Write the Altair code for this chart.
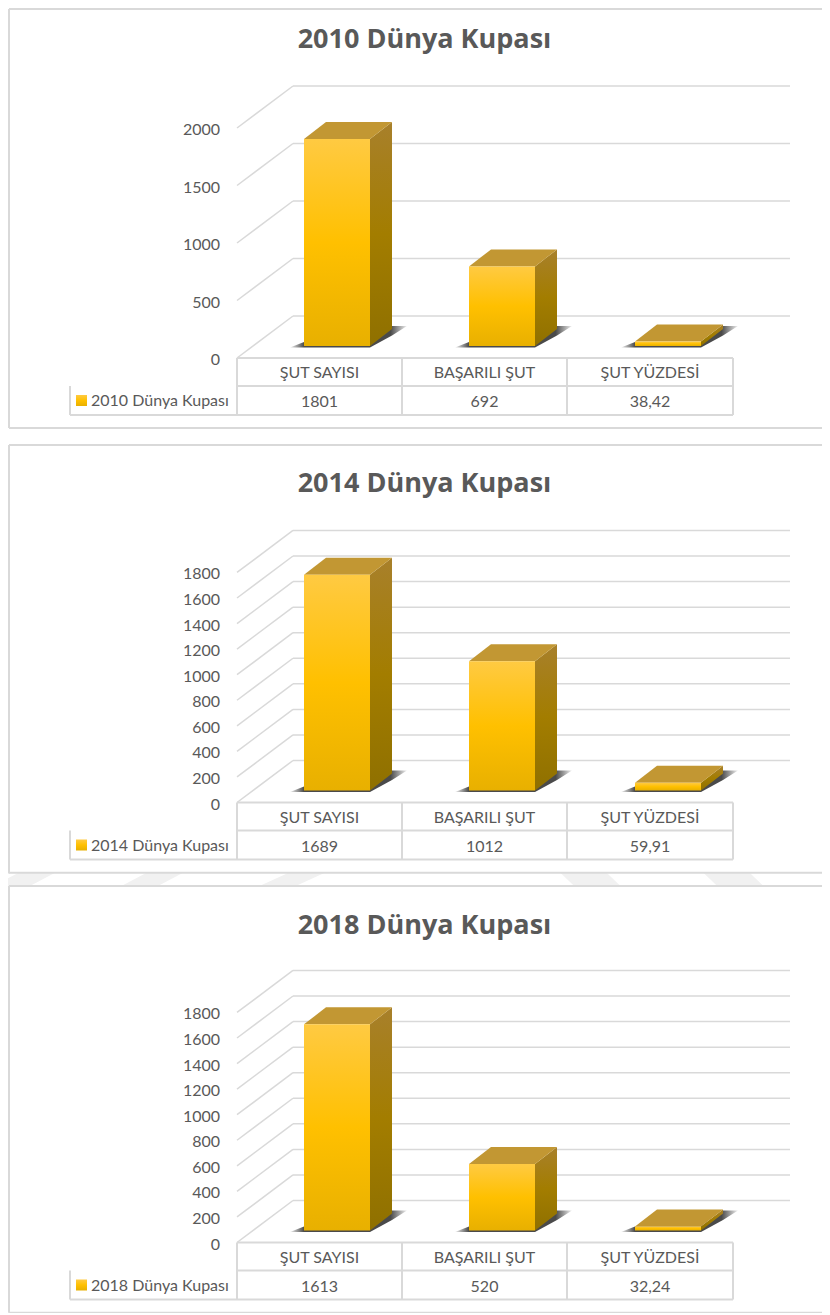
import altair as alt
import pandas as pd

CATEGORIES = ["ŞUT SAYISI", "BAŞARILI ŞUT", "ŞUT YÜZDESİ"]
VALUES_2010 = [1801, 692, 38.42]
VALUES_2014 = [1689, 1012, 59.91]
VALUES_2018 = [1613, 520, 32.24]
TICKS_2010 = [0, 500, 1000, 1500, 2000]
TICKS_1800 = [0, 200, 400, 600, 800, 1000, 1200, 1400, 1600, 1800]

GRID = "#D9D9D9"
TXT = "#595959"
FONT = "Lato"
W = 814
XS = alt.Scale(domain=[0, W], range=[0, W], nice=False, zero=False)

front_grad = alt.Gradient(gradient="linear", x1=0, x2=0, y1=0, y2=1, stops=[
    alt.GradientStop(offset=0, color="#FFCA42"), alt.GradientStop(offset=0.5, color="#FFC000"),
    alt.GradientStop(offset=1, color="#E8B000")])
side_grad = alt.Gradient(gradient="linear", x1=0, x2=0, y1=0, y2=1, stops=[
    alt.GradientStop(offset=0, color="#A8802B"), alt.GradientStop(offset=0.5, color="#A37D00"),
    alt.GradientStop(offset=1, color="#8F7000")])
shadow_grad = alt.Gradient(gradient="linear", x1=0, x2=1, y1=0, y2=0, stops=[
    alt.GradientStop(offset=0, color="#F0F0F0"), alt.GradientStop(offset=0.12, color="#4A4A4A"),
    alt.GradientStop(offset=0.86, color="#4A4A4A"), alt.GradientStop(offset=1, color="#F0F0F0")])


def hline(px1, px2, y, color=GRID, w=2):
    return alt.Chart().mark_rule(color=color, strokeWidth=w, clip=True).encode(
        x=alt.value(px1), x2=alt.value(px2), y=alt.value(y))


def vline(x, y1, y2, color=GRID, w=2):
    return alt.Chart().mark_rule(color=color, strokeWidth=w, clip=True).encode(
        x=alt.value(x), y=alt.value(y1), y2=alt.value(y2))


def panel(title, values, k, dom, ticks, origin, zero, height, frame_top, frame_bottom, title_y, under=None, close=True):
    """origin/zero/frame values are page rows; k is pixels per data unit."""
    zp = zero - origin
    ys = alt.Scale(domain=[0, dom], range=[zp, zp - k * dom], nice=False, zero=False)
    noaxis_x = lambda f: alt.X(f, type="quantitative", scale=XS, axis=None)
    noaxis_y = lambda f: alt.Y(f, type="quantitative", scale=ys, axis=None)

    # plot geometry in panel pixels
    left, right, back = 229, 782, 285
    wall = 42 / k
    base = 12 / k
    bar_w, dx, dy = 66, 22, 17 / k
    cols = [229, 394, 559, 725]
    centers = [329, 494, 660]
    cell_centers = [(a + b) / 2 for a, b in zip(cols[:-1], cols[1:])]

    grid_rows = [{"v": t, "vb": t + wall, "x0": left, "x1": back, "x2": right,
                  "label": str(t), "lx": 212} for t in ticks]
    grid = pd.DataFrame(grid_rows)
    wall_lines = alt.Chart(grid).mark_rule(color=GRID, strokeWidth=1.5).encode(
        x=noaxis_x("x1"), x2="x2:Q", y=noaxis_y("vb"))
    diag = alt.Chart(grid).mark_rule(color=GRID, strokeWidth=1.5).encode(
        x=noaxis_x("x0"), x2="x1:Q", y=noaxis_y("v"), y2="vb:Q")
    tick_text = alt.Chart(grid).mark_text(
        font=FONT, fontSize=16, color=TXT, align="right", baseline="middle", dy=2).encode(
        x=noaxis_x("lx"), y=noaxis_y("v"), text="label:N")

    bars, sides, tops, shadows = [], [], [], []
    for cat, c, v in zip(CATEGORIES, centers, values):
        l, r = c - bar_w / 2, c + bar_w / 2
        bars.append({"cat": cat, "l": l, "r": r, "y0": base, "y1": base + v})
        sides += [{"cat": cat, "x": r, "lo": base, "hi": base + v},
                  {"cat": cat, "x": r + dx, "lo": base + dy, "hi": base + v + dy}]
        tops += [{"cat": cat, "y": base + v, "a": l, "b": r},
                 {"cat": cat, "y": base + v + dy, "a": l + dx, "b": r + dx}]
        shadow_pts = [(l - 14, -1.5, -1.5), (l, -1.5, 4), (r, -1.5, 4), (r + 22, 10.6, 20), (r + 37, 20, 20)]
        shadows += [{"cat": cat, "x": x, "lo": base + a / k, "hi": base + b / k} for x, a, b in shadow_pts]

    shadow = alt.Chart(pd.DataFrame(shadows)).mark_area(color=shadow_grad, orient="vertical").encode(
        x=noaxis_x("x"), y=noaxis_y("lo"), y2="hi:Q", detail="cat:N")
    side = alt.Chart(pd.DataFrame(sides)).mark_area(color=side_grad, orient="vertical").encode(
        x=noaxis_x("x"), y=noaxis_y("lo"), y2="hi:Q", detail="cat:N")
    top = alt.Chart(pd.DataFrame(tops)).mark_area(color="#C29733", orient="horizontal").encode(
        y=noaxis_y("y"), x=noaxis_x("a"), x2="b:Q", detail="cat:N")
    front = alt.Chart(pd.DataFrame(bars)).mark_rect(color=front_grad).encode(
        x=noaxis_x("l"), x2="r:Q", y=noaxis_y("y0"), y2="y1:Q")

    cat_df = pd.DataFrame({"x": cell_centers, "c": CATEGORIES,
                           "t": [str(v).replace(".", ",") for v in values]})
    cat_text = alt.Chart(cat_df).mark_text(font=FONT, fontSize=16, color=TXT, baseline="middle").encode(
        x=noaxis_x("x"), y=alt.value(zp + 15), text="c:N")
    val_text = alt.Chart(cat_df).mark_text(font=FONT, fontSize=16, color=TXT, baseline="middle").encode(
        x=noaxis_x("x"), y=alt.value(zp + 44), text="t:N")
    legend_text = alt.Chart(pd.DataFrame({"t": [title]})).mark_text(
        font=FONT, fontSize=16, color=TXT, align="left", baseline="middle").encode(
        x=alt.value(83), y=alt.value(zp + 43), text="t:N")
    legend_key = alt.Chart().mark_rect(color=front_grad).encode(
        x=alt.value(68), x2=alt.value(79), y=alt.value(zp + 37), y2=alt.value(zp + 48))
    title_text = alt.Chart(pd.DataFrame({"t": [title]})).mark_text(
        font="Open Sans", fontWeight="bold", fontSize=27, color=TXT, baseline="middle").encode(
        x=alt.value(416.5), y=alt.value(title_y - origin), text="t:N")

    tl = [hline(left, cols[-1], zp), hline(left, cols[-1], zp + 28), hline(62, cols[-1], zp + 57),
          vline(62, zp + 28, zp + 57)]
    tl += [vline(x, zp, zp + 57) for x in cols]

    ft, fb = frame_top - origin, frame_bottom - origin
    frame = [alt.Chart().mark_rect(color="white").encode(
                 x=alt.value(1), x2=alt.value(W), y=alt.value(ft), y2=alt.value(fb)),
             hline(1, W, ft), vline(1, ft, fb)]
    if close:
        frame.append(hline(1, W, fb))

    layers = (under or []) + frame + [wall_lines, diag, shadow, side, top, front] + tl + [
        legend_key, tick_text, cat_text, val_text, legend_text, title_text]
    return alt.layer(*layers).properties(width=W, height=height)


# faint page watermark, only seen in the gutter between the last two panels
def stripe(center, slope, width):
    return alt.Chart().mark_rule(color="#F1F1F1", strokeWidth=width, clip=True).encode(
        x=alt.value(center - 8 - 20 * slope), x2=alt.value(center - 8 + 20 * slope),
        y=alt.value(-11), y2=alt.value(29))


p3_under = [stripe(25, -1.9, 17), stripe(153, -1.9, 17), stripe(293, -2.2, 15),
            stripe(590, 1.05, 32), stripe(733, 1.05, 32)]
p3_under += [alt.Chart().mark_rect(color="white").encode(
    x=alt.value(0), x2=alt.value(W), y=alt.value(0), y2=alt.value(2))]
p3_under += [hline(1, W, 2.7), vline(1, 0, 3.5)]

p1 = panel("2010 Dünya Kupası", VALUES_2010, 0.115, 2000, TICKS_2010, 8, 358, 422, 9, 428, 40)
p2 = panel("2014 Dünya Kupası", VALUES_2014, 0.1278, 1800, TICKS_1800, 430, 802.5, 440, 445, 870, 484, close=False)
p3 = panel("2018 Dünya Kupası", VALUES_2018, 0.1278, 1800, TICKS_1800, 870, 1242.5, 443, 886, 1312.7, 925.5, under=p3_under)

chart = alt.vconcat(p1, p2, p3, spacing=0).properties(padding=0).configure_view(stroke=None)
chart.save("out.html", embed_options={"renderer": "svg", "actions": False})
